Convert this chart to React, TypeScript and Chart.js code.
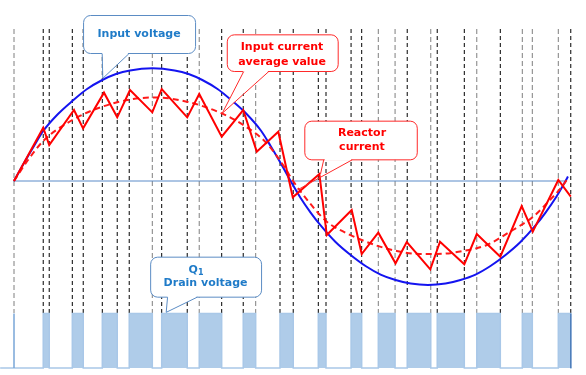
import React, { useEffect, useRef } from "react";
import { Chart, registerables } from "chart.js";

Chart.register(...registerables);

// x: AC phase in degrees, y: percent of input-voltage peak
const voltagePhase = [0, 6.5, 13.0, 19.0, 28.6, 37.9, 47.5, 57.4, 66.3, 75.4, 89.9, 104.4, 113.5, 122.4, 132.3, 141.9, 151.2, 160.7, 166.8, 173.3, 179.8, 186.3, 192.8, 199.3, 209.0, 218.8, 228.5, 238.3, 248.0, 257.8, 269.1, 280.5, 290.2, 300.0, 309.7, 319.5, 329.2, 339.0, 345.5, 352.0, 358.5, 360.1];
const voltageValue = [0, 16.2, 31.5, 45.0, 60.3, 72.0, 82.8, 90.9, 96.3, 99.5, 101.4, 99.5, 96.3, 90.9, 82.8, 72.0, 60.3, 45.0, 31.5, 16.2, 0, -15.3, -28.4, -40.0, -54.9, -66.6, -76.5, -84.2, -89.1, -92.3, -93.6, -92.3, -89.1, -84.2, -76.5, -66.6, -54.9, -40.0, -28.4, -15.3, 0, 4.0];

const averagePhase = [0, 9.1, 19.0, 37.9, 57.4, 77.5, 91.7, 112.3, 135.0, 149.0, 164.3, 176.2, 181.4, 192.4, 203.3, 216.3, 226.0, 237.9, 248.8, 263.9, 274.8, 292.0, 307.3, 322.4, 337.5, 348.4, 357.0, 360.1];
const averageValue = [0, 18.9, 36.0, 54.9, 66.9, 73.8, 75.2, 71.4, 60.9, 50.4, 33.9, 11.7, 0, -20.1, -36.6, -47.1, -53.1, -59.1, -63.0, -65.7, -65.7, -63.0, -57.6, -45.6, -32.1, -17.1, -3.6, 2.7];

const reactorPhase = [0, 19.0, 22.9, 39.0, 44.9, 58.5, 67.1, 75.4, 89.9, 96.0, 112.6, 120.4, 135.0, 149.0, 157.8, 171.8, 181.2, 198.5, 203.3, 219.5, 226.0, 236.8, 248.0, 255.3, 270.6, 276.9, 292.7, 300.8, 316.1, 330.0, 337.2, 353.8, 361.9];
const reactorValue = [0, 48.0, 32.4, 63.9, 47.4, 79.5, 57.3, 81.9, 61.8, 82.8, 57.3, 78.3, 39.9, 63.9, 26.4, 44.4, -14.7, 6.3, -48.6, -26.1, -65.7, -46.5, -74.1, -54.9, -79.5, -54.6, -75.0, -47.7, -68.1, -22.5, -45.6, 0.9, -14.1];

// switching instants (degrees)
const switchBlack = [19.0, 22.9, 37.9, 45.0, 57.4, 67.1, 74.9, 96.0, 112.6, 135.0, 149.0, 172.9, 181.5, 197.8, 202.8, 219.1, 226.0, 255.6, 275.1, 292.7, 316.1, 361.9];
const switchGray = [0, 89.9, 120.4, 157.1, 236.8, 247.7, 270.9, 300.8, 330.4, 336.9, 353.8];

// Q1 drain voltage high intervals
const q1HighStart = [19.0, 37.9, 57.4, 74.9, 96.0, 120.4, 149.0, 172.9, 197.8, 219.1, 236.8, 255.6, 275.1, 300.8, 330.4, 353.8];
const q1HighEnd = [22.9, 45.0, 67.1, 89.9, 112.6, 135.0, 157.1, 181.5, 202.8, 226.0, 247.7, 270.9, 292.7, 316.1, 336.9, 361.9];

const guideTop = 136.8;
const guideBottom = -118.8;
const drainHigh = -119.2;
const drainLow = -168.3;

const callouts = [
  {
    box: [44.9, 149.4, 117.7, 115.2],
    base: [[57.0, 114.9], [74.3, 114.9]],
    tip: [[57.4, 92.4], [57.4, 92.4]],
    fillPointer: true,
    stroke: "#5b8cc4",
    color: "#1f7bc8",
    lines: [{ text: "Input voltage", x: 81.3, y: 132.3 }],
  },
  {
    box: [138.3, 132.0, 210.4, 99.0],
    base: [[149.0, 99.0], [165.3, 99.0]],
    tip: [[135.0, 60.9], [135.0, 60.9]],
    fillPointer: true,
    stroke: "#ff2a2a",
    color: "#ff0000",
    lines: [
      { text: "Input current", x: 174.2, y: 120.2 },
      { text: "average value", x: 174.2, y: 107.1 },
    ],
  },
  {
    box: [188.7, 54.3, 261.8, 19.5],
    base: [[201.0, 19.5], [219.5, 19.5]],
    tip: [[198.9, 6.3], [183.8, -8.1]],
    fillPointer: false,
    stroke: "#ff2a2a",
    color: "#ff0000",
    lines: [
      { text: "Reactor", x: 226.2, y: 43.2 },
      { text: "current", x: 226.2, y: 30.6 },
    ],
  },
  {
    box: [88.5, -68.1, 160.6, -104.1],
    base: [[99.5, -104.1], [118.8, -104.1]],
    tip: [[98.6, -118.2], [98.6, -118.2]],
    fillPointer: true,
    stroke: "#5b8cc4",
    color: "#1f7bc8",
    lines: [
      { text: "Q", sub: "1", x: 118.3, y: -80.1 },
      { text: "Drain voltage", x: 124.5, y: -92.1 },
    ],
  },
];

const calloutPlugin = {
  id: "callouts",
  afterDatasetsDraw(chart: any) {
    const { ctx } = chart;
    const xs = chart.scales.x;
    const ys = chart.scales.y;
    const px = (v: number) => xs.getPixelForValue(v);
    const py = (v: number) => ys.getPixelForValue(v);
    ctx.save();
    for (const c of callouts) {
      const x0 = px(c.box[0]), y0 = py(c.box[1]), x1 = px(c.box[2]), y1 = py(c.box[3]);
      ctx.beginPath();
      ctx.roundRect(x0 + 0.5, y0 + 0.5, x1 - x0, y1 - y0, 7);
      ctx.fillStyle = "#ffffff";
      ctx.fill();
      ctx.lineWidth = 1;
      ctx.strokeStyle = c.stroke;
      ctx.stroke();
      const bA = [px(c.base[0][0]), py(c.base[0][1])];
      const bB = [px(c.base[1][0]), py(c.base[1][1])];
      const tA = [px(c.tip[0][0]), py(c.tip[0][1])];
      const tB = [px(c.tip[1][0]), py(c.tip[1][1])];
      if (c.fillPointer) {
        ctx.beginPath();
        ctx.moveTo(bA[0] + 0.5, bA[1] - 1);
        ctx.lineTo(tA[0] + 0.5, tA[1]);
        ctx.lineTo(bB[0] + 0.5, bB[1] - 1);
        ctx.closePath();
        ctx.fillStyle = "#ffffff";
        ctx.fill();
      }
      ctx.beginPath();
      ctx.moveTo(bA[0] + 1.5, bA[1] + 0.5);
      ctx.lineTo(bB[0] - 0.5, bB[1] + 0.5);
      ctx.strokeStyle = "#ffffff";
      ctx.lineWidth = 2;
      ctx.stroke();
      ctx.beginPath();
      ctx.moveTo(bA[0] + 0.5, bA[1] + 0.5);
      ctx.lineTo(tA[0] + 0.5, tA[1]);
      ctx.moveTo(bB[0] + 0.5, bB[1] + 0.5);
      ctx.lineTo(tB[0] + 0.5, tB[1]);
      ctx.strokeStyle = c.stroke;
      ctx.lineWidth = 1;
      ctx.stroke();
      ctx.fillStyle = c.color;
      ctx.textBaseline = "middle";
      for (const l of c.lines as any[]) {
        const tx = px(l.x), ty = py(l.y);
        ctx.font = 'bold 11px "DejaVu Sans"';
        if (l.sub) {
          const w1 = ctx.measureText(l.text).width;
          ctx.font = 'bold 8px "DejaVu Sans"';
          const w2 = ctx.measureText(l.sub).width;
          const startX = tx - (w1 + w2) / 2;
          ctx.textAlign = "left";
          ctx.font = 'bold 11px "DejaVu Sans"';
          ctx.fillText(l.text, startX, ty);
          ctx.font = 'bold 8px "DejaVu Sans"';
          ctx.fillText(l.sub, startX + w1, ty + 3);
        } else {
          ctx.textAlign = "center";
          ctx.fillText(l.text, tx, ty);
        }
      }
    }
    ctx.restore();
  },
};

function pairs(xs: number[], ys: number[]) {
  return xs.map((x, i) => ({ x, y: ys[i] }));
}

function guides(xs: number[]) {
  const out: any[] = [];
  xs.forEach((x) => {
    out.push({ x, y: guideTop }, { x, y: guideBottom }, { x, y: null });
  });
  return out;
}

function drainSteps() {
  const out: any[] = [{ x: -9, y: drainLow }];
  q1HighStart.forEach((s, i) => {
    out.push({ x: s, y: drainHigh }, { x: q1HighEnd[i], y: drainLow });
  });
  out.push({ x: 362.5, y: drainLow });
  return out;
}

export default function App() {
  const ref = useRef<HTMLCanvasElement>(null);
  useEffect(() => {
    document.body.style.margin = "0";
    const chart = new Chart(ref.current as HTMLCanvasElement, {
      type: "line",
      data: {
        datasets: [
          {
            label: "switch (black)",
            data: guides(switchBlack),
            borderColor: "#000000",
            borderWidth: 1,
            borderDash: [4, 3],
            pointRadius: 0,
            spanGaps: false,
            order: 12,
          },
          {
            label: "switch (gray)",
            data: guides(switchGray),
            borderColor: "#7f7f7f",
            borderWidth: 1,
            borderDash: [5, 3],
            pointRadius: 0,
            spanGaps: false,
            order: 11,
          },
          {
            label: "Q1 drain voltage",
            data: drainSteps(),
            stepped: true,
            borderColor: "#a9c8e8",
            borderWidth: 1.5,
            backgroundColor: "#afcce9",
            fill: { value: drainLow },
            pointRadius: 0,
            order: 10,
          },
          {
            label: "left edge",
            data: [{ x: 0, y: drainHigh }, { x: 0, y: drainLow }],
            borderColor: "#7aa6d8",
            borderWidth: 1.5,
            pointRadius: 0,
            order: 9,
          },
          {
            label: "right edge",
            data: [{ x: 361.9, y: drainHigh }, { x: 361.9, y: drainLow }],
            borderColor: "#4d7dba",
            borderWidth: 1.5,
            pointRadius: 0,
            order: 9,
          },
          {
            label: "zero",
            data: [{ x: -0.5, y: 0 }, { x: 358, y: 0 }],
            borderColor: "#5b8bc8",
            borderWidth: 1,
            pointRadius: 0,
            order: 8,
          },
          {
            label: "Input voltage",
            data: pairs(voltagePhase, voltageValue),
            borderColor: "#1414f0",
            borderWidth: 2,
            cubicInterpolationMode: "monotone",
            pointRadius: 0,
            order: 7,
          },
          {
            label: "Input current average value",
            data: pairs(averagePhase, averageValue),
            borderColor: "#ff1a1a",
            borderWidth: 2,
            borderDash: [6, 4],
            cubicInterpolationMode: "monotone",
            pointRadius: 0,
            order: 6,
          },
          {
            label: "Reactor current",
            data: pairs(reactorPhase, reactorValue),
            borderColor: "#ff0000",
            borderWidth: 2,
            tension: 0,
            pointRadius: 0,
            order: 5,
          },
        ],
      },
      options: {
        animation: false,
        responsive: false,
        devicePixelRatio: 1,
        layout: { padding: 0 },
        plugins: { legend: { display: false }, tooltip: { enabled: false } },
        scales: {
          x: { type: "linear", min: -9.1, max: 371.8, display: false },
          y: { type: "linear", min: -174.6, max: 162.9, display: false },
        },
      },
      plugins: [calloutPlugin],
    } as any);
    return () => chart.destroy();
  }, []);
  return (
    <div style={{ width: 586, height: 375 }}>
      <canvas ref={ref} width={586} height={375} />
    </div>
  );
}
